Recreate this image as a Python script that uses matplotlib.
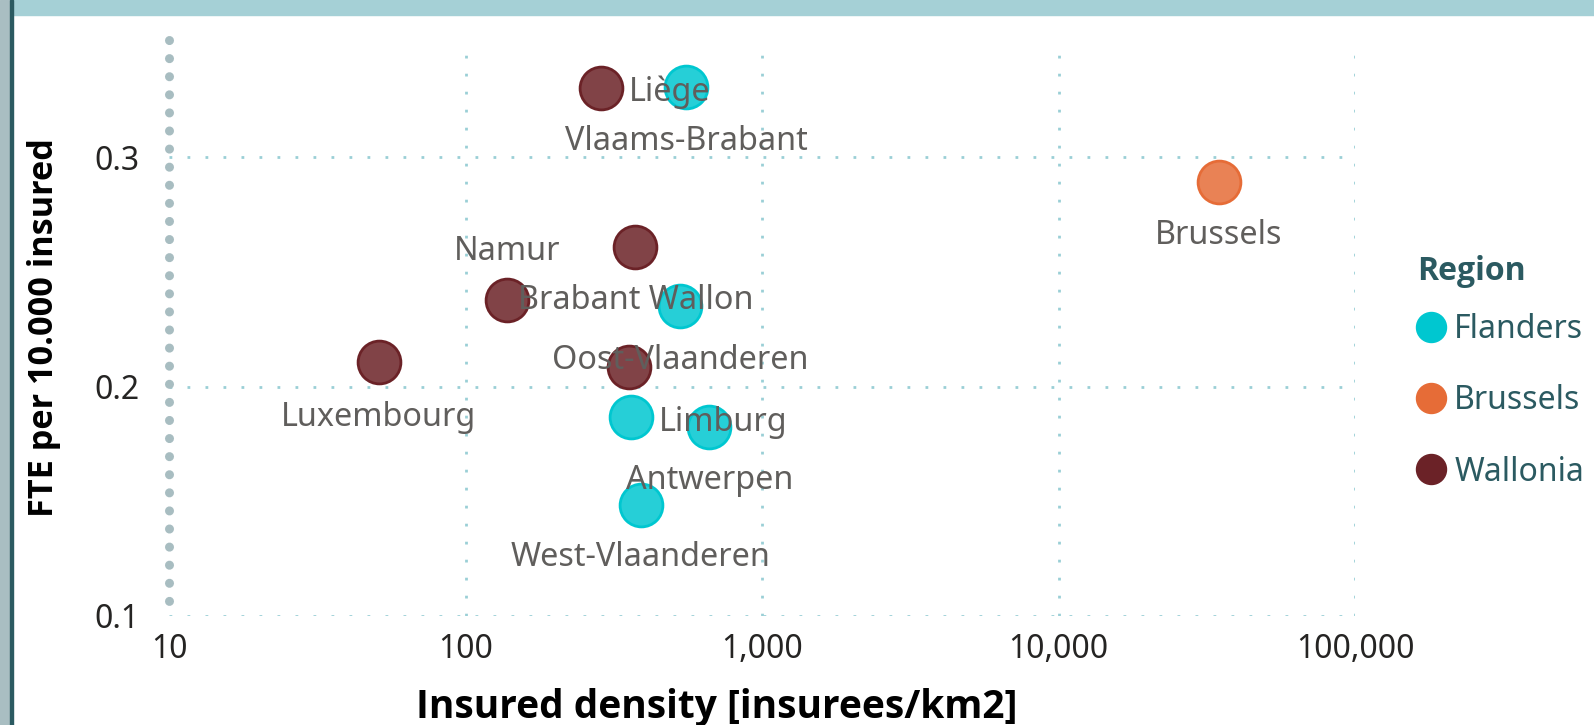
import matplotlib
matplotlib.use('Agg')
import matplotlib.pyplot as plt
from matplotlib.lines import Line2D
from matplotlib.patches import Rectangle
from matplotlib.ticker import FixedLocator, FuncFormatter

plt.rcParams['font.family'] = ['Noto Sans', 'DejaVu Sans']
BOLD = ['Open Sans', 'Lato', 'DejaVu Sans']

# provinces
flanders = ['Vlaams-Brabant', 'Oost-Vlaanderen', 'Limburg', 'Antwerpen', 'West-Vlaanderen']
flanders_x = [555, 530, 361, 664, 390]
flanders_y = [0.3305, 0.2350, 0.1868, 0.1826, 0.1485]

brussels = ['Brussels']
brussels_x = [34750]
brussels_y = [0.2894]

wallonia = ['Liège', 'Brabant Wallon', 'Namur', 'Luxembourg', 'Hainaut']
wallonia_x = [286, 374, 138, 51, 355]
wallonia_y = [0.3304, 0.2610, 0.2379, 0.2109, 0.2085]

regions = ['Flanders', 'Brussels', 'Wallonia']
colors = ['#00C7D0', '#E66C37', '#6B2227']

x_ticks = [10, 100, 1000, 10000, 100000]
y_ticks = [0.1, 0.2, 0.3]

# label placement: (dx, dy) in points, alignment
label_pos = {
    'Vlaams-Brabant': (0, -39, 'center'),
    'Oost-Vlaanderen': (0, -39, 'center'),
    'Limburg': (20, -4, 'left'),
    'Antwerpen': (0, -39, 'center'),
    'West-Vlaanderen': (0, -38, 'center'),
    'Brussels': (0, -39, 'center'),
    'Liège': (20, -3, 'left'),
    'Brabant Wallon': (0, -39, 'center'),
    'Namur': (0, 35, 'center'),
    'Luxembourg': (0, -40, 'center'),
}

fig = plt.figure(figsize=(15.94, 7.25), dpi=100)
ax = fig.add_axes([169 / 1594, 1 - 616 / 725, 1186 / 1594, 576 / 725])

grid_c = '#9ACFD6'
ymax = 0.3512
ax.set_xscale('log')
ax.set_xlim(10, 100000)
ax.set_ylim(0.1, ymax)
for gx in x_ticks[1:]:
    ax.axvline(gx, color=grid_c, lw=2.0, ls=(0, (1, 5.48)), zorder=0)
for gy in y_ticks:
    ax.axhline(gy, color=grid_c, lw=2.0, ls=(0, (1, 5.48)), zorder=0)
# dotted y axis, drawn from the top down
ax.plot([10, 10], [ymax, 0.1], color='#A8BDC1', lw=6.5, ls=(0, (0.01, 1.994)),
        dash_capstyle='round', zorder=1, clip_on=False)

for sp in ax.spines.values():
    sp.set_visible(False)

size = 950
groups = [(flanders, flanders_x, flanders_y), (brussels, brussels_x, brussels_y),
          (wallonia, wallonia_x, wallonia_y)]
for (names, xs, ys), c in zip(groups, colors):
    ax.scatter(xs, ys, s=size, facecolor=matplotlib.colors.to_rgba(c, 0.85),
               edgecolor=c, linewidth=2, zorder=3, clip_on=False)
    for n, x, y in zip(names, xs, ys):
        if n not in label_pos:
            continue
        dx, dy, ha = label_pos[n]
        ax.annotate(n, (x, y), xytext=(dx, dy), textcoords='offset points',
                    ha=ha, va='center', fontsize=23.3, color='#605E5C', zorder=4)

ax.xaxis.set_major_locator(FixedLocator(x_ticks))
ax.xaxis.set_minor_locator(FixedLocator([]))
ax.xaxis.set_major_formatter(FuncFormatter(lambda v, p: f'{int(v):,}'))
ax.set_yticks(y_ticks)
ax.set_yticklabels(['0.1', '0.2', '0.3'])
ax.tick_params(axis='x', length=0, pad=12, labelsize=23, labelcolor='#252423')
ax.tick_params(axis='y', length=0, pad=21, labelsize=23, labelcolor='#252423')

ax.set_xlabel('Insured density [insurees/km2]', fontsize=28, fontweight='bold',
              family=BOLD, color='black')
ax.xaxis.set_label_coords(0.462, -0.125)
ax.set_ylabel('FTE per 10.000 insured', fontsize=24.7, fontweight='bold',
              family=BOLD, color='black')
ax.yaxis.set_label_coords(-0.091, 0.5)

# legend
fig.text(1417 / 1594, 1 - 271 / 725, 'Region', fontsize=23, fontweight='bold',
         family=BOLD, color='#2B5A61', ha='left', va='center')
handles = [Line2D([], [], marker='o', ls='none', markersize=21.6, markerfacecolor=c,
                  markeredgecolor=c) for c in colors]
leg = fig.legend(handles, regions, loc='upper left',
                 bbox_to_anchor=(1416 / 1594, 1 - 313 / 725), frameon=False,
                 fontsize=23, handlelength=0.95, handletextpad=0.25,
                 labelspacing=1.2, borderpad=0, borderaxespad=0)
for t in leg.get_texts():
    t.set_color('#2B5A61')

# report frame bits
fig.patches.append(Rectangle((12 / 1594, 1 - 15 / 725), 1, 15 / 725,
                             transform=fig.transFigure, color='#A5D0D6', zorder=0))
fig.patches.append(Rectangle((0, 0), 10 / 1594, 1, transform=fig.transFigure,
                             color='#A9BEC2', zorder=0))
fig.patches.append(Rectangle((10 / 1594, 0), 2.5 / 1594, 1, transform=fig.transFigure,
                             color='#2B5A61', zorder=0))

fig.savefig('out.png', dpi=100)
